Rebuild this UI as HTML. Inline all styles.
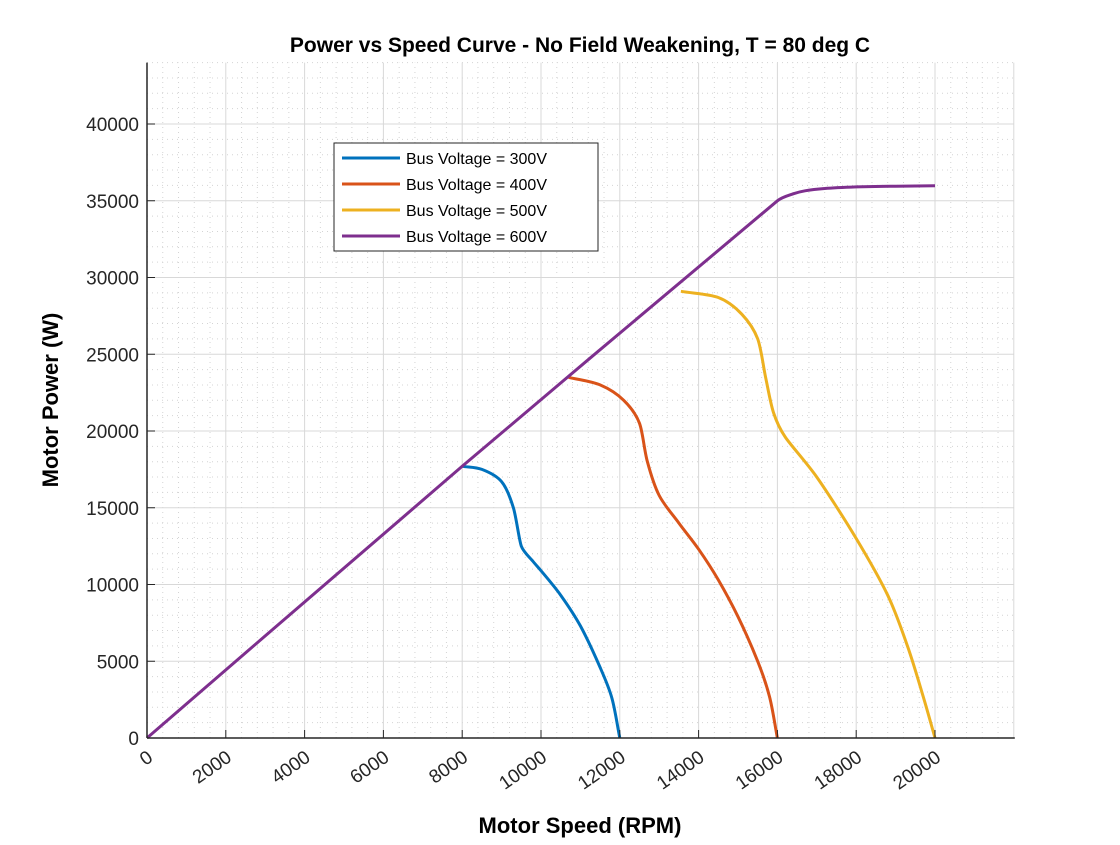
<!DOCTYPE html>
<html><head><meta charset="utf-8"><style>
body{margin:0;background:#fff;}
svg text{font-family:"Liberation Sans",Arial,sans-serif;}
</style></head><body>
<svg id="chart" width="1120" height="840" xmlns="http://www.w3.org/2000/svg">
<rect width="1120" height="840" fill="#fff"/>
<g id="grid"></g><g id="lines"></g><g id="axes"></g>
<text x="580" y="52" text-anchor="middle" font-size="21" font-weight="bold">Power vs Speed Curve - No Field Weakening, T = 80 deg C</text>
<text x="580" y="833" text-anchor="middle" font-size="22" font-weight="bold">Motor Speed (RPM)</text>
<text transform="translate(58,400) rotate(-90)" text-anchor="middle" font-size="22" font-weight="bold">Motor Power (W)</text>
<g id="legend"></g>
</svg>
<script>
const xTicks=[0,2000,4000,6000,8000,10000,12000,14000,16000,18000,20000];
const yTicks=[0,5000,10000,15000,20000,25000,30000,35000,40000];
const seriesNames=["Bus Voltage = 300V","Bus Voltage = 400V","Bus Voltage = 500V","Bus Voltage = 600V"];
const colors=["#0072BD","#D95319","#EDB120","#7E2F8E"];
const s300x=[8000,8500,9000,9300,9500,9800,10000,10500,11000,11500,11800,12000];
const s300y=[17700,17500,16700,15000,12500,11500,10900,9300,7300,4600,2600,0];
const s400x=[10700,11500,12100,12500,12700,13000,13500,14000,14500,15000,15500,15800,16000];
const s400y=[23500,23000,22000,20500,18000,15800,14000,12300,10300,7900,5000,2700,0];
const s500x=[13550,14500,15100,15500,15700,15900,16200,17000,18000,18800,19300,19700,20000];
const s500y=[29100,28700,27600,26000,23500,21200,19600,17000,13000,9300,6000,2700,0];
const s600x=[0,8000,16000,16400,16700,17200,18000,19000,20000];
const s600y=[0,17700,35000,35450,35650,35800,35900,35950,35980];
const X0=147,XS=(935-147)/20000,Y0=738,YS=(738-124)/40000;
const xmax=22000,ymax=44000;
const sx=v=>X0+v*XS, sy=v=>Y0-v*YS;
const NS="http://www.w3.org/2000/svg";
function mk(t,a,p){const e=document.createElementNS(NS,t);for(const k in a)e.setAttribute(k,a[k]);p.appendChild(e);return e;}
const grid=document.getElementById('grid'),axes=document.getElementById('axes'),lines=document.getElementById('lines');
for(let v=400;v<=xmax;v+=400){if(v%2000)
{const l=mk('line',{x1:sx(v),x2:sx(v),y1:sy(0),y2:sy(ymax),stroke:'#d4d4d4','stroke-width':1,'stroke-dasharray':'1 4'},grid);
}}
for(let v=1000;v<=ymax;v+=1000){if(v%5000)
{const l=mk('line',{x1:sx(0),x2:sx(xmax),y1:sy(v),y2:sy(v),stroke:'#d4d4d4','stroke-width':1,'stroke-dasharray':'1 4'},grid);
}}
for(let v=2000;v<=xmax;v+=2000){const l=mk('line',{x1:sx(v),x2:sx(v),y1:sy(0),y2:sy(ymax),stroke:'#d8d8d8','stroke-width':1},grid);
}
for(let v=5000;v<=ymax;v+=5000){const l=mk('line',{x1:sx(0),x2:sx(xmax),y1:sy(v),y2:sy(v),stroke:'#d8d8d8','stroke-width':1},grid);
}
const xa=mk('line',{x1:sx(0),x2:sx(xmax)+1,y1:sy(0),y2:sy(0),stroke:'#262626','stroke-width':1.5},axes);

const ya=mk('line',{x1:sx(0),x2:sx(0),y1:sy(0),y2:sy(ymax),stroke:'#262626','stroke-width':1.5},axes);

xTicks.forEach(v=>{mk('line',{x1:sx(v),x2:sx(v),y1:sy(0),y2:sy(0)-8,stroke:'#262626','stroke-width':1},axes);
const t=mk('text',{transform:`translate(${sx(v)+7},${sy(0)+22}) rotate(-35)`,'text-anchor':'end','font-size':19,fill:'#262626'},axes);t.textContent=v;
});
yTicks.forEach(v=>{mk('line',{x1:sx(0),x2:sx(0)+8,y1:sy(v),y2:sy(v),stroke:'#262626','stroke-width':1},axes);
const t=mk('text',{x:sx(0)-8,y:sy(v)+7,'text-anchor':'end','font-size':19,fill:'#262626'},axes);t.textContent=v;
});
function smooth(px,py){const P=px.map((x,j)=>[sx(x),sy(py[j])]);const n=P.length;
const dist=(a,b)=>Math.hypot(b[0]-a[0],b[1]-a[1]);
const T=P.map((p,i)=>{const a=P[Math.max(0,i-1)],b=P[Math.min(n-1,i+1)];const L=dist(a,b)||1;return [(b[0]-a[0])/L,(b[1]-a[1])/L];});
let d='M'+P[0][0].toFixed(1)+','+P[0][1].toFixed(1);
for(let i=0;i<n-1;i++){const p1=P[i],p2=P[i+1];
const k1=Math.min(dist(p1,p2),i>0?dist(P[i-1],p1):1e9)/3;
const k2=Math.min(dist(p1,p2),i+2<n?dist(p2,P[i+2]):1e9)/3;
const c1=[p1[0]+T[i][0]*k1,p1[1]+T[i][1]*k1],c2=[p2[0]-T[i+1][0]*k2,p2[1]-T[i+1][1]*k2];
d+='C'+c1.map(v=>v.toFixed(1))+' '+c2.map(v=>v.toFixed(1))+' '+p2.map(v=>v.toFixed(1));}return d;}
const sets=[[s300x,s300y],[s400x,s400y],[s500x,s500y],[s600x,s600y]];
sets.forEach((s,i)=>{
const p=mk('path',{d:smooth(s[0],s[1]),fill:'none',stroke:colors[i],'stroke-width':3,'stroke-linejoin':'round'},lines);
});
const lg=document.getElementById('legend');
mk('rect',{x:334,y:143,width:264,height:108,fill:'#fff',stroke:'#262626','stroke-width':1},lg);
seriesNames.forEach((n,i)=>{const y=158+i*26;
mk('line',{x1:342,x2:400,y1:y,y2:y,stroke:colors[i],'stroke-width':3},lg);
const t=mk('text',{x:406,y:y+6,'font-size':16,fill:'#000'},lg);t.textContent=n;
});
</script>
</body></html>
